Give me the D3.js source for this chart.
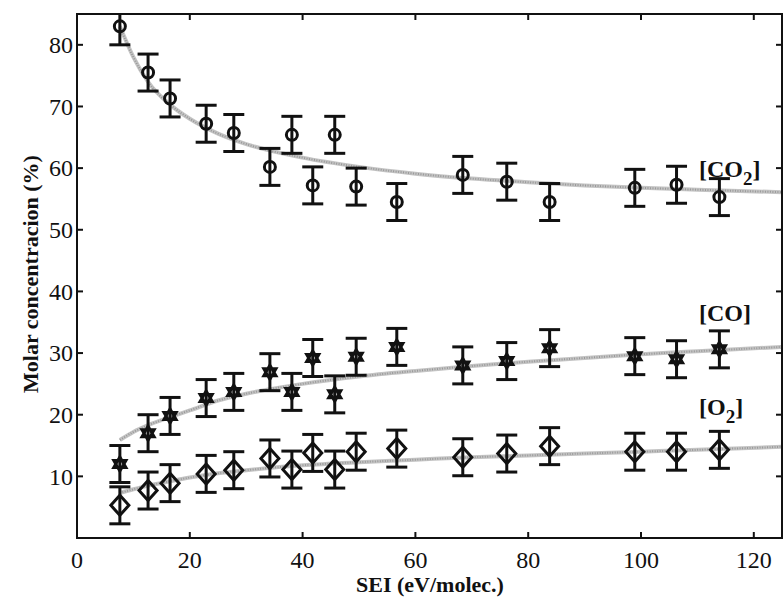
<!DOCTYPE html>
<html>
<head>
<meta charset="utf-8">
<script src="https://cdn.jsdelivr.net/npm/d3@7"></script>
<style>
  body { margin: 0; background: #fff; }
  svg { display: block; }
  text { font-family: "Liberation Serif", "DejaVu Serif", serif; fill: #111; }
  .tick-label { font-size: 24px; }
  .axis-title { font-size: 22px; font-weight: bold; }
  .series-label { font-size: 24px; font-weight: bold; }
  .fit { fill: none; stroke: #c4c4c4; stroke-width: 4px; }
  .fit-dots { fill: none; stroke: #999; stroke-width: 2px; stroke-dasharray: 1 1.5; }
  .err { stroke: #111; stroke-width: 3px; fill: none; }
  .marker { stroke: #111; stroke-width: 3px; fill: none; }
</style>
</head>
<body>
<svg id="chart" width="783" height="598"></svg>
<script>
// measured data (SEI in eV/molec., concentrations in %)
var sei = [7.6, 12.6, 16.5, 22.9, 27.8, 34.2, 38.1, 41.8, 45.7, 49.5, 56.7, 68.4, 76.2, 83.8, 98.9, 106.3, 113.9];
var co2 = [83.0, 75.5, 71.3, 67.2, 65.7, 60.2, 65.4, 57.2, 65.4, 57.0, 54.5, 58.9, 57.8, 54.5, 56.8, 57.3, 55.3];
var co  = [12.0, 17.0, 19.8, 22.7, 23.7, 26.9, 23.7, 29.2, 23.3, 29.4, 31.0, 28.0, 28.7, 30.8, 29.5, 29.0, 30.6];
var o2  = [5.3, 7.7, 8.9, 10.4, 11.0, 12.9, 11.1, 13.8, 11.1, 14.0, 14.5, 13.1, 13.7, 14.9, 14.0, 14.0, 14.3];
var errBar = 3;

// fitted curves
var fitX   = [7.6, 10, 12.6, 16.5, 20, 25, 30, 40, 50, 60, 70, 80, 90, 100, 110, 125];
var fitCo2 = [83.0, 78.0, 74.0, 70.3, 68.0, 65.6, 63.9, 61.7, 60.2, 59.1, 58.3, 57.7, 57.2, 56.8, 56.5, 56.1];
var fitCo  = [15.9, 17.2, 18.3, 19.6, 20.7, 22.3, 23.4, 25.0, 26.2, 27.1, 27.9, 28.6, 29.2, 29.8, 30.3, 31.0];
var fitO2  = [7.3, 7.9, 8.5, 9.2, 9.8, 10.5, 11.0, 11.8, 12.3, 12.7, 13.1, 13.4, 13.7, 14.0, 14.3, 14.8];

var xTicks = [0, 20, 40, 60, 80, 100, 120];
var yTicks = [10, 20, 30, 40, 50, 60, 70, 80];

(function () {
  var svg = d3.select("#chart");
  var pL = 77, pR = 782, pT = 14, pB = 538;

  var x = d3.scaleLinear().domain([0, 125]).range([pL, pR]);
  var y = d3.scaleLinear().domain([0, 85]).range([pB, pT]);

  svg.append("defs").append("clipPath").attr("id", "plot")
    .append("rect").attr("x", pL).attr("y", pT)
    .attr("width", pR - pL).attr("height", pB - pT);

  var plot = svg.append("g").attr("clip-path", "url(#plot)");

  // fit lines
  var line = d3.line().x(function (d) { return x(d[0]); }).y(function (d) { return y(d[1]); }).curve(d3.curveMonotoneX);
  [fitCo2, fitCo, fitO2].forEach(function (f) {
    var pts = fitX.map(function (v, i) { return [v, f[i]]; });
    plot.append("path").attr("class", "fit").attr("d", line(pts));
    plot.append("path").attr("class", "fit-dots").attr("d", line(pts));
  });

  // error bars + markers
  var capW = 10.5;
  function drawSeries(vals, symbolFn) {
    var g = plot.append("g");
    sei.forEach(function (s, i) {
      var cx = x(s), v = vals[i];
      g.append("line").attr("class", "err")
        .attr("x1", cx).attr("x2", cx).attr("y1", y(v - errBar)).attr("y2", y(v + errBar));
      [v - errBar, v + errBar].forEach(function (e) {
        g.append("line").attr("class", "err")
          .attr("x1", cx - capW).attr("x2", cx + capW).attr("y1", y(e)).attr("y2", y(e));
      });
      symbolFn(g, cx, y(v));
    });
  }

  drawSeries(co2, function (g, cx, cy) {
    g.append("circle").attr("class", "marker").attr("cx", cx).attr("cy", cy).attr("r", 5.5);
  });

  var hexagram = function (r) {
    var tri = function (rot) {
      return d3.range(3).map(function (k) {
        var a = rot + k * 2 * Math.PI / 3;
        return [r * Math.sin(a), -r * Math.cos(a)];
      });
    };
    var t1 = tri(0), t2 = tri(Math.PI);
    return "M" + t1.join("L") + "Z M" + t2.join("L") + "Z";
  };
  drawSeries(co, function (g, cx, cy) {
    g.append("path").attr("class", "marker").attr("stroke-width", 2.5)
      .attr("transform", "translate(" + cx + "," + cy + ")")
      .attr("d", hexagram(7));
  });

  drawSeries(o2, function (g, cx, cy) {
    g.append("path").attr("class", "marker")
      .attr("transform", "translate(" + cx + "," + cy + ")")
      .attr("d", "M0,-10L9,0L0,10L-9,0Z");
  });

  // axes box with inward ticks on all sides
  var tickLen = 6;
  var axisG = svg.append("g").attr("stroke", "#111").attr("stroke-width", 2);
  axisG.append("rect").attr("x", pL).attr("y", pT)
    .attr("width", pR - pL).attr("height", pB - pT).attr("fill", "none");
  xTicks.forEach(function (t) {
    axisG.append("line").attr("x1", x(t)).attr("x2", x(t)).attr("y1", pB).attr("y2", pB - tickLen);
    axisG.append("line").attr("x1", x(t)).attr("x2", x(t)).attr("y1", pT).attr("y2", pT + tickLen);
    svg.append("text").attr("class", "tick-label").attr("x", x(t)).attr("y", 568)
      .attr("text-anchor", "middle").text(t);
  });
  yTicks.forEach(function (t) {
    axisG.append("line").attr("x1", pL).attr("x2", pL + tickLen).attr("y1", y(t)).attr("y2", y(t));
    axisG.append("line").attr("x1", pR).attr("x2", pR - tickLen).attr("y1", y(t)).attr("y2", y(t));
    svg.append("text").attr("class", "tick-label").attr("x", pL - 4).attr("y", y(t))
      .attr("dy", "0.34em").attr("text-anchor", "end").text(t);
  });

  // titles
  svg.append("text").attr("class", "axis-title")
    .attr("transform", "translate(30,274) rotate(-90)")
    .attr("text-anchor", "middle").attr("dy", "0.35em").text("Molar concentracion (%)");
  svg.append("text").attr("class", "axis-title").attr("x", 430).attr("y", 592)
    .attr("text-anchor", "middle").text("SEI (eV/molec.)");

  // series labels
  function seriesLabel(px, py, main, sub) {
    var t = svg.append("text").attr("class", "series-label").attr("x", px).attr("y", py);
    t.append("tspan").text("[" + main);
    if (sub) {
      t.append("tspan").attr("dy", 8).attr("font-size", "19px").text(sub);
      t.append("tspan").attr("dy", -8).text("]");
    } else {
      t.append("tspan").text("]");
    }
  }
  seriesLabel(699, 177, "CO", "2");
  seriesLabel(699, 321, "CO", null);
  seriesLabel(699, 415, "O", "2");
})();
</script>
</body>
</html>
